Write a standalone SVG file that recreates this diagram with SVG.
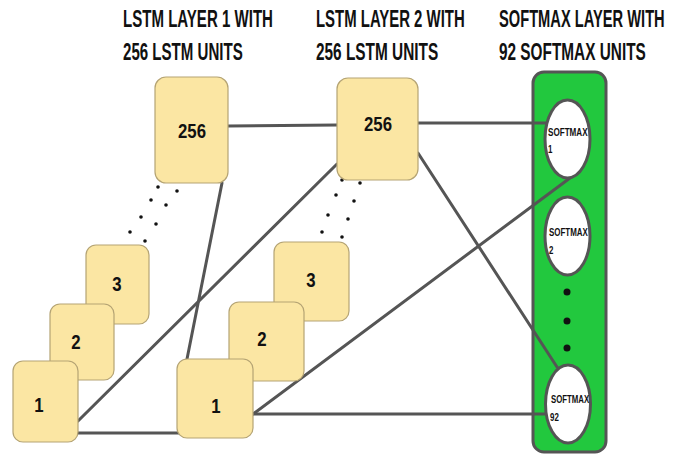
<svg xmlns="http://www.w3.org/2000/svg" width="683" height="455" viewBox="0 0 683 455">
<style>
.title{font-family:"Liberation Sans",Arial,sans-serif;font-weight:bold;font-size:23px;fill:#111}
.box{fill:#fbe6a3;stroke:#b5a474;stroke-width:1.2}
.num{font-family:"Liberation Sans",Arial,sans-serif;font-weight:bold;font-size:21px;fill:#111;text-anchor:middle}
.conn{stroke:#555;stroke-width:3;fill:none;stroke-linecap:round}
.dot{fill:#111}
.ell{fill:#fff;stroke:#555;stroke-width:3}
.sm{font-family:"Liberation Sans",Arial,sans-serif;font-weight:bold;font-size:11px;fill:#111}
</style>
<g id="titles">
<text class="title" transform="translate(123,27) scale(0.63,1)" textLength="238" lengthAdjust="spacingAndGlyphs">LSTM LAYER 1 WITH</text>
<text class="title" transform="translate(123,60) scale(0.63,1)" textLength="190" lengthAdjust="spacingAndGlyphs">256 LSTM UNITS</text>
<text class="title" transform="translate(316,27) scale(0.63,1)" textLength="236" lengthAdjust="spacingAndGlyphs">LSTM LAYER 2 WITH</text>
<text class="title" transform="translate(316,60) scale(0.63,1)" textLength="194" lengthAdjust="spacingAndGlyphs">256 LSTM UNITS</text>
<text class="title" transform="translate(499,27) scale(0.63,1)" textLength="263" lengthAdjust="spacingAndGlyphs">SOFTMAX LAYER WITH</text>
<text class="title" transform="translate(499,60) scale(0.63,1)" textLength="233" lengthAdjust="spacingAndGlyphs">92 SOFTMAX UNITS</text>
</g>
<g id="softmax-layer">
<rect x="533" y="72" width="73" height="380" rx="11" fill="#22c83e" stroke="#555" stroke-width="3"/>
<circle class="dot" cx="567" cy="292" r="3.5"/>
<circle class="dot" cx="567" cy="321" r="3.5"/>
<circle class="dot" cx="567" cy="348" r="3.5"/>
</g>
<g id="connectors">
<line class="conn" x1="228" y1="126" x2="337" y2="125"/>
<line class="conn" x1="418" y1="123" x2="550" y2="123"/>
<line class="conn" x1="418" y1="153" x2="557" y2="367"/>
<line class="conn" x1="222" y1="183" x2="187" y2="359"/>
<line class="conn" x1="78" y1="421" x2="337" y2="164"/>
<line class="conn" x1="78" y1="433" x2="184" y2="433" stroke-width="4"/>
<line class="conn" x1="253" y1="414" x2="570" y2="178"/>
<line class="conn" x1="253" y1="414" x2="548" y2="414"/>
</g>
<g id="l1-dots">
<circle class="dot" cx="158" cy="187" r="1.8"/><circle class="dot" cx="177" cy="191" r="1.8"/>
<circle class="dot" cx="151" cy="200" r="1.8"/><circle class="dot" cx="166" cy="205" r="1.8"/>
<circle class="dot" cx="141" cy="217" r="1.8"/><circle class="dot" cx="156" cy="224" r="1.8"/>
<circle class="dot" cx="130" cy="232" r="1.8"/><circle class="dot" cx="145" cy="241" r="1.8"/>
</g>
<g id="l2-dots">
<circle class="dot" cx="342" cy="180" r="1.8"/><circle class="dot" cx="360" cy="183" r="1.8"/>
<circle class="dot" cx="336" cy="195" r="1.8"/><circle class="dot" cx="354" cy="201" r="1.8"/>
<circle class="dot" cx="328" cy="215" r="1.8"/><circle class="dot" cx="348" cy="219" r="1.8"/>
<circle class="dot" cx="322" cy="232" r="1.8"/><circle class="dot" cx="342" cy="237" r="1.8"/>
</g>
<g id="l1-256"><rect class="box" x="155" y="77" width="73" height="106" rx="11"/><text class="num" transform="translate(192,138) scale(0.8,1)">256</text></g>
<g id="l1-3"><rect class="box" x="86" y="245" width="63" height="79" rx="10"/><text class="num" transform="translate(117,291) scale(0.8,1)">3</text></g>
<g id="l1-2"><rect class="box" x="50" y="304" width="64" height="76" rx="10"/><text class="num" transform="translate(76,349) scale(0.8,1)">2</text></g>
<g id="l1-1"><rect class="box" x="13" y="361" width="65" height="81" rx="10"/><text class="num" transform="translate(39,412) scale(0.8,1)">1</text></g>
<g id="l2-256"><rect class="box" x="337" y="78" width="81" height="102" rx="11"/><text class="num" transform="translate(378,131) scale(0.8,1)">256</text></g>
<g id="l2-3"><rect class="box" x="274" y="242" width="75" height="79" rx="10"/><text class="num" transform="translate(311,287) scale(0.8,1)">3</text></g>
<g id="l2-2"><rect class="box" x="229" y="302" width="75" height="79" rx="10"/><text class="num" transform="translate(262,346) scale(0.8,1)">2</text></g>
<g id="l2-1"><rect class="box" x="177" y="359" width="76" height="79" rx="10"/><text class="num" transform="translate(216,413) scale(0.8,1)">1</text></g>
<g id="softmax-1"><ellipse class="ell" cx="567.5" cy="139" rx="22.5" ry="39"/><text class="sm" transform="translate(548,136) scale(0.72,1)" textLength="55" lengthAdjust="spacingAndGlyphs">SOFTMAX</text><text class="sm" transform="translate(548,153) scale(0.72,1)">1</text></g>
<g id="softmax-2"><ellipse class="ell" cx="567.5" cy="236" rx="22.5" ry="39"/><text class="sm" transform="translate(549,236) scale(0.72,1)" textLength="54" lengthAdjust="spacingAndGlyphs">SOFTMAX</text><text class="sm" transform="translate(549,254) scale(0.72,1)">2</text></g>
<g id="softmax-92"><ellipse class="ell" cx="568" cy="404" rx="22.5" ry="39"/><text class="sm" transform="translate(551,403) scale(0.72,1)" textLength="53" lengthAdjust="spacingAndGlyphs">SOFTMAX</text><text class="sm" transform="translate(550,421) scale(0.72,1)">92</text></g>
</svg>
